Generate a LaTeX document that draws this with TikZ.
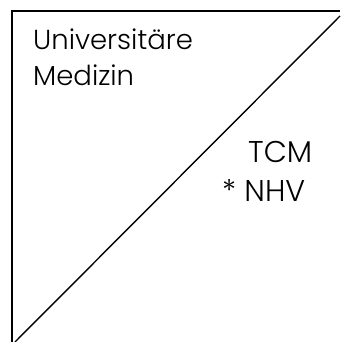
\documentclass[tikz,border=0pt]{standalone}
\usepackage{fontspec}
\setmainfont{Poppins}[UprightFont=* Light]
\begin{document}
\begin{tikzpicture}[x=1pt,y=1pt,
  frame/.style={line width=2pt},
  diag/.style={line width=1.4pt},
  lbl/.style={inner sep=0pt,anchor=base west,font=\fontsize{27.5}{30}\selectfont},
  lblb/.style={inner sep=0pt,anchor=base west,font=\fontsize{30}{34}\selectfont}]
\useasboundingbox (0,0) rectangle (340,342);
\coordinate (bl) at (11.5,0);
\coordinate (tl) at (11.5,330.5);
\coordinate (tr) at (340,330.5);
\coordinate (d1) at (15,0);
\coordinate (d2) at (340,326);
\draw[frame] (bl) -- (tl) -- (tr);
\draw[diag] (d1) -- (d2);
\node[lbl] (u) at (33,292) {Universitäre};
\node[lbl] (m) at (33,256) {Medizin};
\node[lblb] (t) at (248,179) {TCM};
\node[lblb] (n) at (222,140) {* NHV};
\end{tikzpicture}
\end{document}
